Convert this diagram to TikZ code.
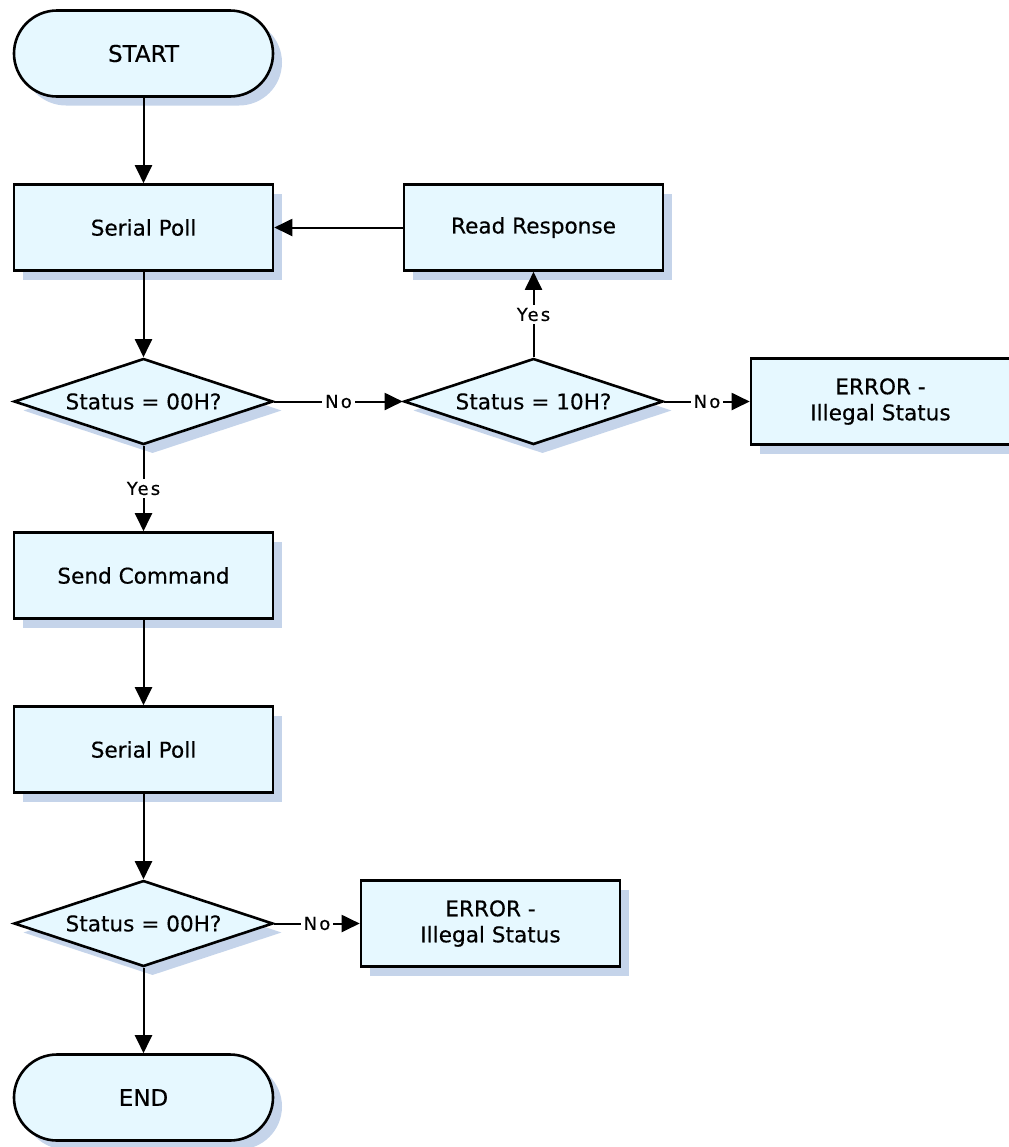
\documentclass[tikz,border=0pt]{standalone}
\usepackage{fontspec}
\setmainfont{DejaVu Sans}[FakeBold=0.4]
\newfontfamily\lblfont[LetterSpace=12,FakeBold=0.4]{DejaVu Sans}
\usepackage{tikz}
\usetikzlibrary{arrows.meta, positioning, shapes.geometric, shadows}
\definecolor{boxfill}{RGB}{230,248,255}
\definecolor{shadowblue}{RGB}{197,212,234}

\begin{document}
\begin{tikzpicture}[
    x=0.5pt, y=-0.5pt,
    node distance = 42.7pt and 42.7pt,
    base/.style = {draw, line width=1.3pt, fill=boxfill,
                   minimum width=129.5pt, minimum height=43pt,
                   align=center, font=\fontsize{10.8}{13}\selectfont,
                   drop shadow={shadow xshift=4.5pt, shadow yshift=-4.5pt,
                                fill=shadowblue, opacity=1}},
    punkt/.style = {base, rectangle},
    ende/.style = {base, rectangle, rounded corners=21.5pt,
                   font=\fontsize{11.5}{13}\selectfont},
    beslut/.style = {base, diamond, aspect=3, inner sep=0pt},
    pil/.style = {black, line width=1pt, -{Triangle[length=9pt,width=8.5pt]}},
    lbl/.style = {fill=white, inner sep=1.5pt, font=\lblfont\fontsize{9}{10}\selectfont}
    ]
  \useasboundingbox (0,0) rectangle (1008,1147);

  \node[ende] (start) at (143.5,53.5) {START} ;
  \node[punkt] (poll1) [below=of start] {Serial Poll} ;
  \node[beslut] (chk1) [below=of poll1] {Status = 00H?} ;
  \node[beslut] (chk2) [right=64.2pt of chk1] {Status = 10H?} ;
  \node[punkt] (read) [above=of chk2] {Read Response} ;
  \node[punkt] (err1) [right=of chk2] {ERROR -\\Illegal Status} ;
  \node[punkt] (send) [below=of chk1] {Send Command} ;
  \node[punkt] (poll2) [below=of send] {Serial Poll} ;
  \node[beslut] (chk3) [below=of poll2] {Status = 00H?} ;
  \node[punkt] (err2) [right=of chk3] {ERROR -\\Illegal Status} ;
  \node[ende] (stop) [below=of chk3] {END} ;

  \draw[pil]
  (start) edge (poll1)
  (poll1) edge (chk1)
  (chk1) edge node[lbl] {No} (chk2)
  (chk2) edge node[lbl] {Yes} (read)
  (read) edge (poll1)
  (chk2) edge node[lbl] {No} (err1)
  (chk1) edge node[lbl] {Yes} (send)
  (send) edge (poll2)
  (poll2) edge (chk3)
  (chk3) edge node[lbl] {No} (err2)
  (chk3) edge (stop);
\end{tikzpicture}
\end{document}
